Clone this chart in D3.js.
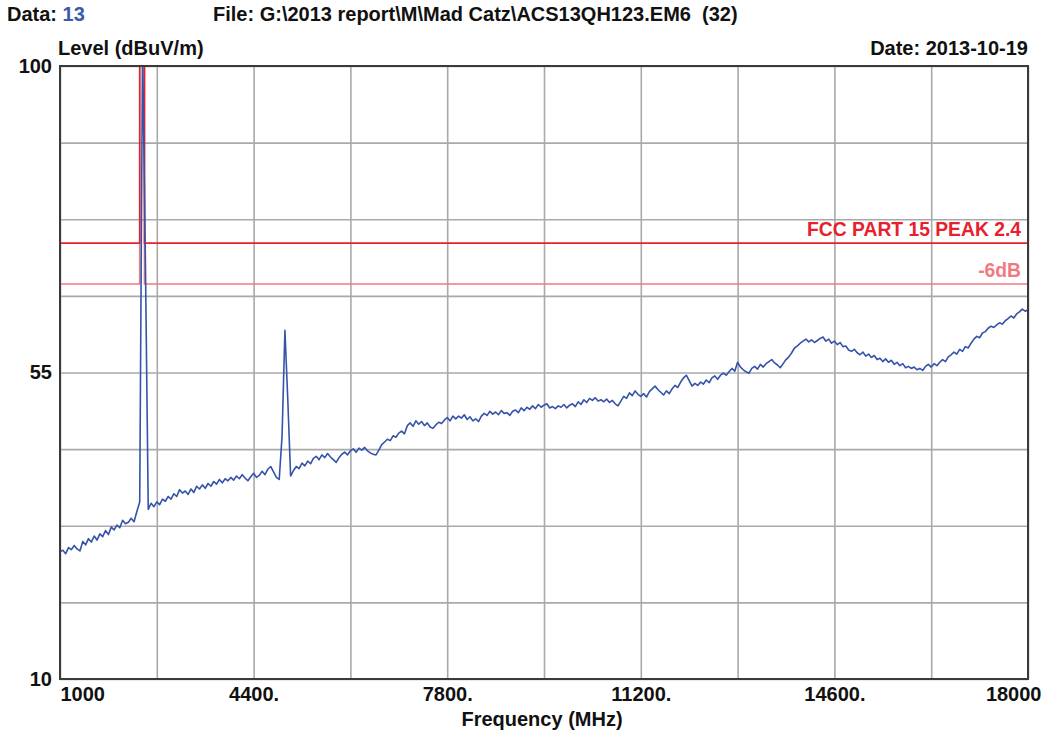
<!DOCTYPE html>
<html><head><meta charset="utf-8">
<script src="https://cdn.jsdelivr.net/npm/d3@7/dist/d3.min.js"></script>
<style>
body{margin:0;background:#fff}
svg text{font-family:"Liberation Sans",Arial,sans-serif;font-weight:bold}
</style>
</head><body>
<svg id="chart" width="1049" height="735"></svg>
<script>
// ---- data ----
const freqStart = 1000, freqStep = 50; // sweep grid (MHz)
const levels = [
 28.7,28.9,28.4,29.3,29.0,29.6,29.1,28.8,30.2,29.7,30.6,30.1,31.0,30.4,31.3,30.9,31.8,31.2,32.3,31.9,
 32.6,32.2,33.3,32.8,33.0,33.6,33.1,34.6,36.0,103,71.2,34.9,35.8,35.3,36.0,35.6,36.4,36.1,36.8,36.4,
 37.2,36.8,37.8,37.3,37.6,37.1,37.9,37.4,38.3,37.9,38.5,38.0,38.7,38.3,39.0,38.6,39.3,38.8,39.4,39.1,
 39.6,39.2,39.8,39.4,40.0,39.5,39.1,39.7,40.2,39.6,39.9,40.5,40.0,40.8,41.2,40.4,39.6,39.3,45.7,61.2,
 51.1,39.8,40.6,41.2,40.9,41.7,41.3,42.0,41.6,42.4,42.7,42.2,42.9,42.5,43.1,42.6,42.2,41.8,42.5,43.0,
 43.3,42.9,43.5,43.8,43.3,43.9,43.6,44.0,43.5,43.2,43.0,42.9,43.6,44.4,44.8,45.2,45.0,45.7,45.5,46.1,
 46.4,46.0,47.2,47.6,47.1,47.9,47.4,47.8,47.2,47.6,47.0,46.8,47.3,47.7,47.5,48.0,48.4,47.9,48.6,48.2,
 48.6,48.3,48.8,48.1,48.5,47.9,48.2,47.8,48.6,49.0,48.7,49.3,48.9,49.2,48.8,49.4,49.0,49.1,48.7,49.3,
 49.5,49.1,49.8,49.4,49.9,49.6,50.1,49.7,50.3,49.9,50.2,50.4,49.8,50.0,49.7,50.1,49.9,50.3,49.8,50.2,
 50.4,50.0,50.7,50.3,51.0,50.6,51.2,50.9,51.3,50.8,51.0,50.7,51.1,50.6,50.9,50.4,50.1,50.8,51.5,51.2,
 52.0,51.6,52.3,51.8,51.5,51.9,51.4,52.2,52.6,53.0,52.5,52.1,51.7,52.3,51.9,52.6,53.1,52.8,53.6,54.2,
 54.6,53.8,53.0,53.4,53.1,53.6,53.3,53.9,53.5,54.2,54.5,54.0,54.6,54.9,54.6,55.1,55.6,55.2,56.5,55.8,
 55.4,55.1,54.9,55.6,55.9,55.5,56.2,55.8,56.3,56.6,56.9,56.4,56.1,55.7,56.3,56.9,57.3,57.9,58.6,58.9,
 59.3,59.6,59.9,59.5,59.8,59.4,59.7,60.0,60.2,59.6,59.9,59.3,59.6,59.1,59.4,58.8,58.9,58.3,58.1,58.4,
 57.9,57.6,58.0,57.4,57.7,57.2,57.5,56.9,57.1,56.6,57.0,56.5,56.8,56.2,56.5,56.0,56.3,55.7,55.9,55.6,
 55.8,55.4,55.6,55.3,55.9,56.2,55.8,56.3,56.0,56.5,56.9,56.6,57.3,57.6,58.0,57.7,58.4,58.1,58.8,58.6,
 59.3,59.9,60.3,60.1,60.8,61.0,61.5,61.8,61.6,62.0,62.3,62.1,62.6,62.9,63.3,63.0,63.6,63.9,64.3,64.0,
 64.2
];
const limitFreq   = [1000, 2400, 2400, 2483.5, 2483.5, 18000];
const limitPeak   = [74, 74, 140, 140, 74, 74];
const limitMinus6 = [68, 68, 140, 140, 68, 68];
const xGridTicks  = [1000, 2700, 4400, 6100, 7800, 9500, 11200, 12900, 14600, 16300, 18000];
const xLabelTicks = [1000, 4400, 7800, 11200, 14600, 18000];
const xLabelText  = ["1000", "4400.", "7800.", "11200.", "14600.", "18000"];
const yGridTicks  = [10, 21.25, 32.5, 43.75, 55, 66.25, 77.5, 88.75, 100];
const yLabelTicks = [10, 55, 100];

// ---- layout ----
const svg = d3.select("#chart");
const L = 60, R = 1028, T = 66, B = 679;
const x = d3.scaleLinear().domain([1000, 18000]).range([L, R]);
const y = d3.scaleLinear().domain([10, 100]).range([B, T]);

svg.append("defs").append("clipPath").attr("id", "plotclip")
  .append("rect").attr("x", L).attr("y", T).attr("width", R - L).attr("height", B - T);

// grid
const gx = svg.append("g").attr("transform", `translate(0,${B})`)
  .call(d3.axisBottom(x).tickValues(xGridTicks).tickSize(-(B - T)).tickFormat(""));
gx.select(".domain").remove();
gx.selectAll("line").attr("stroke", "#a9a9a9").attr("stroke-width", 1.6);
const gy = svg.append("g").attr("transform", `translate(${L},0)`)
  .call(d3.axisLeft(y).tickValues(yGridTicks).tickSize(-(R - L)).tickFormat(""));
gy.select(".domain").remove();
gy.selectAll("line").attr("stroke", "#a9a9a9").attr("stroke-width", 1.6);

const plot = svg.append("g").attr("clip-path", "url(#plotclip)");

// limit lines
const limLine = vals => d3.line().x((d, i) => x(limitFreq[i])).y((d, i) => y(vals[i]))(vals);
plot.append("path").attr("d", limLine(limitMinus6)).attr("fill", "none")
  .attr("stroke", "#f17a80").attr("stroke-width", 1.6);
plot.append("path").attr("d", limLine(limitPeak)).attr("fill", "none")
  .attr("stroke", "#e8202c").attr("stroke-width", 1.6);

// trace
const trace = d3.line().x((d, i) => x(freqStart + i * freqStep)).y(d => y(d));
plot.append("path").datum(levels).attr("d", trace).attr("fill", "none")
  .attr("stroke", "#3553a8").attr("stroke-width", 1.6).attr("stroke-linejoin", "round");

// frame
svg.append("rect").attr("x", L).attr("y", T).attr("width", R - L).attr("height", B - T)
  .attr("fill", "none").attr("stroke", "#3a3a3a").attr("stroke-width", 2);

// limit labels
svg.append("text").attr("x", 1021).attr("y", 236).attr("text-anchor", "end")
  .attr("font-size", 19.3).attr("fill", "#e8202c").text("FCC PART 15 PEAK 2.4");
svg.append("text").attr("x", 1021).attr("y", 277).attr("text-anchor", "end")
  .attr("font-size", 19.3).attr("fill", "#f17a80").text("-6dB");

// axis labels
const ax = svg.append("g").attr("transform", `translate(0,${B})`)
  .call(d3.axisBottom(x).tickValues(xLabelTicks).tickSize(0).tickPadding(8)
    .tickFormat((d, i) => xLabelText[i]));
ax.select(".domain").remove();
ax.selectAll("text").attr("font-size", 20).attr("fill", "#111")
  .style("font-family", "'Liberation Sans',Arial,sans-serif").style("font-weight", "bold");
ax.selectAll(".tick").filter(d => d === 1000).select("text").attr("text-anchor", "start").attr("dx", 0);
ax.selectAll(".tick").filter(d => d === 18000).select("text").attr("text-anchor", "end").attr("dx", 13);

const ay = svg.append("g").attr("transform", `translate(${L},0)`)
  .call(d3.axisLeft(y).tickValues(yLabelTicks).tickSize(0).tickPadding(8).tickFormat(d3.format("d")));
ay.select(".domain").remove();
ay.selectAll("text").attr("font-size", 20).attr("fill", "#111")
  .style("font-family", "'Liberation Sans',Arial,sans-serif").style("font-weight", "bold");

// titles
svg.append("text").attr("x", 542).attr("y", 726).attr("text-anchor", "middle")
  .attr("font-size", 20).attr("fill", "#111").text("Frequency (MHz)");
svg.append("text").attr("x", 58).attr("y", 55).attr("font-size", 20).attr("fill", "#111")
  .text("Level (dBuV/m)");
svg.append("text").attr("x", 1028).attr("y", 55).attr("text-anchor", "end")
  .attr("font-size", 20).attr("fill", "#111").text("Date: 2013-10-19");
const hdr = svg.append("text").attr("x", 7).attr("y", 21).attr("font-size", 20).attr("fill", "#111");
hdr.append("tspan").text("Data: ");
hdr.append("tspan").attr("fill", "#3a5ca8").text("13");
svg.append("text").attr("x", 213).attr("y", 21).attr("font-size", 20).attr("fill", "#111")
  .attr("xml:space", "preserve").style("white-space", "pre")
  .text("File: G:\\2013 report\\M\\Mad Catz\\ACS13QH123.EM6  (32)");
</script>
</body></html>
